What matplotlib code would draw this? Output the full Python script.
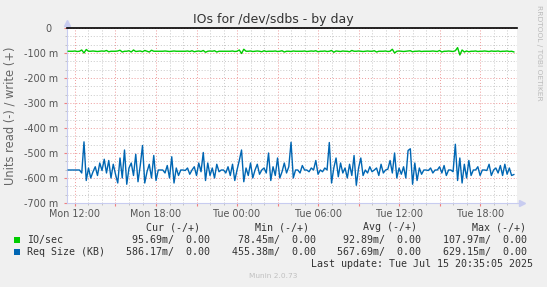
import matplotlib
matplotlib.use('Agg')
import matplotlib.pyplot as plt
import matplotlib.dates as mdates
from matplotlib.ticker import MultipleLocator, FuncFormatter
import pandas as pd

# ---------------- data ----------------
title = "IOs for /dev/sdbs - by day"
ylabel = "Units read (-) / write (+)"
start_time = "2025-07-14 11:30"
step_minutes = 10

# read side (plotted negative), values in milli-units
io_read = [
    93, 93, 93, 92, 94, 93, 88, 100, 86, 93,
    93, 92, 93, 94, 93, 92, 93, 90, 95, 93,
    93, 93, 92, 89, 96, 93, 93, 91, 96, 88,
    94, 93, 92, 95, 90, 93, 96, 89, 93, 93,
    93, 93, 93, 92, 93, 94, 93, 92, 93, 93,
    93, 93, 93, 92, 94, 91, 95, 93, 92, 94,
    90, 97, 93, 92, 93, 91, 96, 93, 93, 93,
    93, 93, 93, 92, 94, 93, 88, 102, 85, 93,
    93, 92, 94, 93, 92, 93, 95, 91, 94, 93,
    93, 93, 92, 94, 93, 91, 96, 93, 93, 94,
    92, 93, 93, 93, 93, 92, 94, 93, 92, 93,
    91, 95, 93, 93, 92, 94, 93, 90, 97, 92,
    93, 94, 92, 93, 93, 95, 90, 93, 93, 92,
    93, 94, 93, 92, 93, 93, 91, 96, 93, 93,
    93, 92, 94, 93, 85, 100, 93, 92, 93, 94,
    93, 92, 91, 95, 93, 93, 92, 94, 93, 93,
    93, 93, 92, 93, 94, 90, 96, 93, 93, 92,
    93, 94, 91, 78.45, 107.97, 88, 96, 92, 95, 93,
    93, 92, 94, 93, 93, 92, 93, 94, 92, 93,
    93, 92, 94, 93, 93, 92, 94, 93, 95.69,
]
req_read = [
    568, 568, 568, 568, 568, 568, 580, 455.38, 610, 560,
    600, 575, 555, 590, 540, 570, 525, 580, 530, 600,
    545, 585, 620, 520, 600, 488, 625, 560, 540, 590,
    505, 615, 550, 470, 620, 575, 545, 600, 510, 610,
    568, 568, 568, 580, 550, 600, 515, 620, 560, 590,
    568, 568, 570, 560, 585, 568, 555, 590, 540, 575,
    498, 610, 540, 590, 560, 600, 545, 575, 568, 568,
    580, 555, 590, 545, 610, 568, 530, 488, 615, 560,
    590, 540, 600, 568, 545, 585, 568, 560, 580, 500,
    610, 555, 590, 520, 600, 575, 540, 580, 555, 457,
    600, 568, 568, 580, 550, 568, 568, 575, 560, 568,
    530, 585, 568, 575, 560, 568, 458, 620, 560, 520,
    595, 540, 580, 560, 600, 545, 590, 510, 629.15, 560,
    520, 590, 568, 580, 555, 575, 568, 560, 590, 545,
    580, 568, 565, 530, 580, 500, 600, 560, 585, 555,
    600, 490, 483, 625, 540, 610, 560, 585, 568, 568,
    570, 560, 580, 568, 568, 555, 580, 550, 590, 568,
    568, 575, 465, 610, 520, 620, 545, 600, 530, 590,
    568, 568, 555, 590, 568, 568, 570, 545, 590, 568,
    560, 580, 550, 590, 545, 585, 560, 590, 586.17,
]

series_names = ["IO/sec", "Req Size (KB)"]
series_colors = ["#00CC00", "#0066B3"]
cur_vals = ["95.69m/  0.00", "586.17m/  0.00"]
min_vals = ["78.45m/  0.00", "455.38m/  0.00"]
avg_vals = ["92.89m/  0.00", "567.69m/  0.00"]
max_vals = ["107.97m/  0.00", "629.15m/  0.00"]
col_headers = ["Cur (-/+)", "Min (-/+)", "Avg (-/+)", "Max (-/+)"]
last_update = "Last update: Tue Jul 15 20:35:05 2025"
footer = "Munin 2.0.73"
side_text = "RRDTOOL / TOBI OETIKER"

x_start = pd.Timestamp("2025-07-14 11:24:30")
x_end = pd.Timestamp("2025-07-15 20:44:00")
y_min, y_max = -700, 0

# ---------------- figure ----------------
W, H = 547, 287
fig = plt.figure(figsize=(W / 100, H / 100), dpi=100)
fig.patch.set_facecolor("#F0F0F0")

def fx(x):
    return x / W

def fy(y):
    return 1 - y / H

L, R, T, B = 67, 517, 28, 203
ax = fig.add_axes([fx(L), fy(B), (R - L) / W, (B - T) / H])
ax.set_facecolor("#FFFFFF")

times = pd.date_range(start_time, periods=len(req_read), freq=f"{step_minutes}min")
ax.plot(times, [-v for v in io_read], color=series_colors[0], lw=1.0, zorder=3)
ax.plot(times, [-v for v in req_read], color=series_colors[1], lw=1.0, zorder=3)

ax.set_xlim(x_start, x_end)
ax.set_ylim(y_min, y_max)

# grid
ax.xaxis.set_major_locator(mdates.HourLocator(byhour=range(0, 24, 3)))
ax.xaxis.set_minor_locator(mdates.HourLocator())
def xfmt(v, pos):
    d = mdates.num2date(v)
    if d.hour % 6 == 0:
        return d.strftime("%a %H:%M")
    return ""
ax.xaxis.set_major_formatter(FuncFormatter(xfmt))
ax.yaxis.set_major_locator(MultipleLocator(100))
ax.yaxis.set_minor_locator(MultipleLocator(100 / 3))
ax.yaxis.set_major_formatter(FuncFormatter(lambda v, p: "0  " if abs(v) < 1e-9 else f"{int(round(v))} m"))

ax.grid(which="minor", color="#C8C8C8", linestyle=(0, (1, 2)), lw=0.7, zorder=1)
ax.grid(which="major", color="#EE9999", linestyle=(0, (1, 2)), lw=0.7, zorder=1)
ax.set_axisbelow(True)

ax.tick_params(axis="both", which="both", labelsize=6.9, labelcolor="#555555")
ax.tick_params(axis="x", which="major", length=2.5, color="#F08080", pad=2)
ax.tick_params(axis="x", which="minor", length=1.5, color="#BBBBBB")
ax.tick_params(axis="y", which="major", length=2.5, color="#F08080", pad=4)
ax.tick_params(axis="y", which="minor", length=1.5, color="#BBBBBB")

for s in ["top", "right"]:
    ax.spines[s].set_visible(False)
axis_col = "#C8CCF0"
ax.spines["left"].set_color(axis_col)
ax.spines["bottom"].set_color(axis_col)
ax.spines["left"].set_linewidth(0.8)
ax.spines["bottom"].set_linewidth(0.8)

# zero line
ax.axhline(0, color="#000000", lw=1.2, zorder=4, clip_on=False)

# arrows
ax.plot([0, 0], [1.0, 1.025], color=axis_col, lw=0.8, transform=ax.transAxes, clip_on=False)
ax.plot([0], [1.03], marker="^", ms=4, color=axis_col, transform=ax.transAxes, clip_on=False)
ax.plot([1.0, 1.008], [0, 0], color=axis_col, lw=0.8, transform=ax.transAxes, clip_on=False)
ax.plot([1.012], [0], marker=">", ms=4, color=axis_col, transform=ax.transAxes, clip_on=False)

# title and labels
fig.text(fx(273), fy(19), title, ha="center", va="center", fontsize=9, color="#333333")
fig.text(fx(10), fy(116), ylabel, ha="center", va="center", rotation=90, fontsize=8.3, color="#666666")
fig.text(fx(539), fy(53), side_text, ha="center", va="center", rotation=270, fontsize=5.4, color="#BBBBBB")

# legend
mono = "DejaVu Sans Mono"
fs = 7.2
tc = "#333333"
col_right_hdr = [200, 309, 417, 526]
col_right_val = [210, 316, 421, 527]
for h, xr in zip(col_headers, col_right_hdr):
    fig.text(fx(xr), fy(227), h, ha="right", va="center", fontsize=fs, family=mono, color=tc)
rows_y = [240, 252]
for i, name in enumerate(series_names):
    y = rows_y[i]
    fig.patches.append(plt.Rectangle((fx(14), fy(y + 3)), 6 / W, 6 / H, transform=fig.transFigure,
                                     facecolor=series_colors[i], edgecolor="none"))
    fig.text(fx(27), fy(y), name, ha="left", va="center", fontsize=fs, family=mono, color=tc)
    for vals, xr in zip([cur_vals, min_vals, avg_vals, max_vals], col_right_val):
        fig.text(fx(xr), fy(y), vals[i], ha="right", va="center", fontsize=fs, family=mono, color=tc)
fig.text(fx(533), fy(264), last_update, ha="right", va="center", fontsize=fs, family=mono, color=tc)
fig.text(fx(273), fy(276), footer, ha="center", va="center", fontsize=5.3, color="#C0C0C0")

fig.savefig("out.png", dpi=100, facecolor=fig.get_facecolor())
